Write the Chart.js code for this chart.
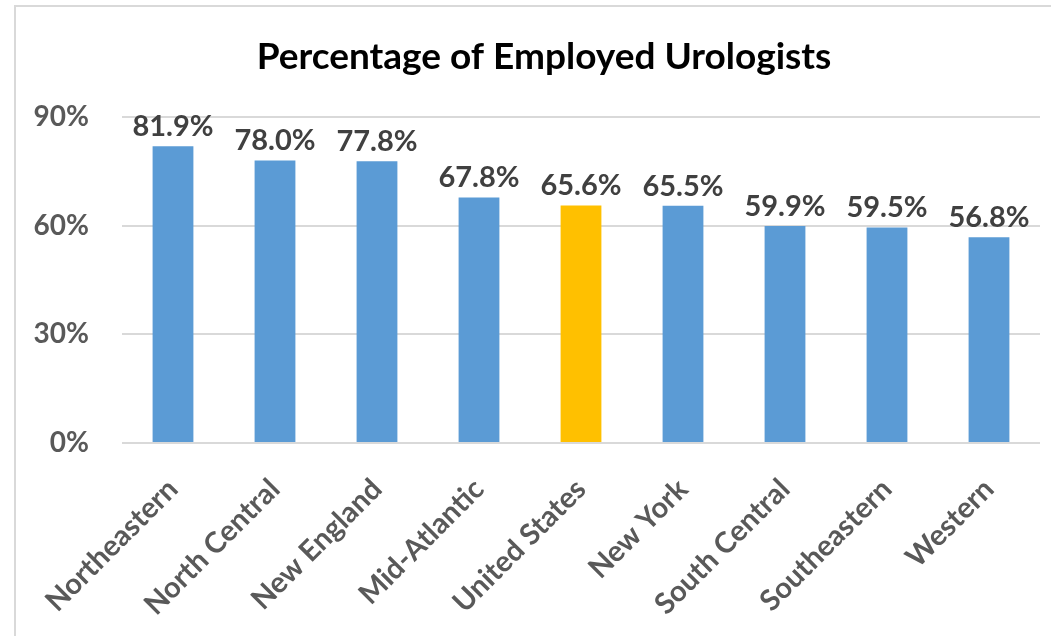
<!DOCTYPE html>
<html>
<head>
<meta charset="utf-8">
<script src="https://cdn.jsdelivr.net/npm/chart.js@4"></script>
<style>
  html, body { margin: 0; padding: 0; background: #fff; overflow: hidden; }
  #frame { position: absolute; left: 14px; top: 5px; width: 2000px; height: 2000px; border: 2px solid #d9d9d9; }
  #wrap { position: absolute; left: 0; top: 0; width: 1051px; height: 636px; }
</style>
</head>
<body>
<div id="frame"></div>
<div id="wrap"><canvas id="urologyChart" width="1051" height="636"></canvas></div>
<script>
// ---- data ----
const regions = ['Northeastern', 'North Central', 'New England', 'Mid-Atlantic', 'United States', 'New York', 'South Central', 'Southeastern', 'Western'];
const employedPct = [81.9, 78.0, 77.8, 67.8, 65.6, 65.5, 59.9, 59.5, 56.8];
const highlightRegion = 'United States';
const yTicks = [0, 30, 60, 90];
const chartTitle = 'Percentage of Employed Urologists';

const FONT = 'Lato, "Open Sans", sans-serif';
const barColors = regions.map(r => r === highlightRegion ? '#FFC000' : '#5B9BD5');

// title + value labels drawn on top (no datalabels plugin offline)
const labelPlugin = {
  id: 'labelPlugin',
  afterDatasetsDraw(chart) {
    const ctx = chart.ctx;
    ctx.save();
    ctx.textAlign = 'center';
    ctx.textBaseline = 'alphabetic';
    ctx.fillStyle = '#404040';
    ctx.font = 'bold 29px ' + FONT;
    const meta = chart.getDatasetMeta(0);
    meta.data.forEach((bar, i) => {
      ctx.fillText(employedPct[i].toFixed(1) + '%', bar.x, bar.y - 10);
    });
    ctx.fillStyle = '#000';
    ctx.font = 'bold 37px ' + FONT;
    ctx.fillText(chartTitle, 544, 69);
    ctx.restore();
  }
};

new Chart(document.getElementById('urologyChart'), {
  type: 'bar',
  data: {
    labels: regions,
    datasets: [{
      data: employedPct,
      backgroundColor: barColors,
      borderWidth: 0,
      categoryPercentage: 1,
      barPercentage: 0.4
    }]
  },
  options: {
    responsive: false,
    animation: false,
    layout: { padding: { top: 117, right: 11, left: 0, bottom: 0 } },
    plugins: {
      legend: { display: false },
      tooltip: { enabled: false },
      title: { display: false }
    },
    scales: {
      x: {
        grid: { display: false },
        border: { display: false },
        ticks: {
          autoSkip: false,
          minRotation: 45,
          maxRotation: 45,
          padding: 21,
          color: '#595959',
          font: { family: FONT, size: 29, weight: 'bold' }
        },
        afterFit(scale) { scale.height = 193; }
      },
      y: {
        min: 0,
        max: 90,
        afterBuildTicks(scale) { scale.ticks = yTicks.map(v => ({ value: v })); },
        grid: { color: '#d9d9d9', lineWidth: 2, drawTicks: false },
        border: { display: false },
        ticks: {
          padding: 33,
          color: '#595959',
          font: { family: FONT, size: 28, weight: 'bold' },
          callback: v => v + '%'
        },
        afterFit(scale) { scale.width = 122; }
      }
    }
  },
  plugins: [labelPlugin]
});
</script>
</body>
</html>
